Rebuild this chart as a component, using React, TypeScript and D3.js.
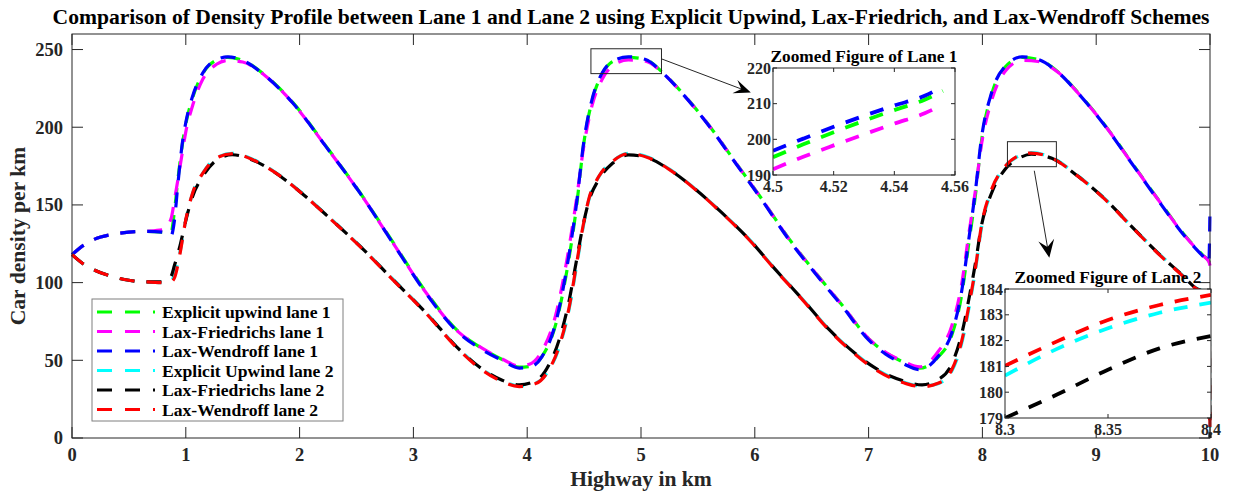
import React from 'react';
import * as d3 from 'd3';

const W = 1234;
const H = 492;
const FONT = "'Liberation Serif', 'Times New Roman', serif";
const AXIS = '#262626';

// main axes
const xTicks = [0, 1, 2, 3, 4, 5, 6, 7, 8, 9, 10];
const yTicks = [0, 50, 100, 150, 200, 250];

// lane 1 (Explicit upwind / Lax-Friedrichs / Lax-Wendroff)
const lane1X = [0, 0.1, 0.2, 0.35, 0.5, 0.65, 0.8, 0.87, 0.9, 0.93, 0.97, 1.0, 1.06, 1.15, 1.27, 1.37, 1.5, 1.7, 1.94,
  2.23, 2.53, 2.82, 3.11, 3.4, 3.6, 3.78, 3.93, 4.02, 4.13, 4.25, 4.34, 4.43, 4.5, 4.57, 4.66, 4.78, 4.89, 5.04, 5.19,
  5.36, 5.6, 5.83, 6.06, 6.3, 6.53, 6.77, 7.0, 7.15, 7.3, 7.45, 7.61, 7.73, 7.82, 7.88, 7.94, 7.99, 8.08, 8.2, 8.35,
  8.49, 8.67, 8.84, 9.08, 9.31, 9.54, 9.78, 9.94, 9.99, 10];
const upwindLane1 = [118, 124, 128, 131, 132.5, 133, 132.5, 132, 146, 166, 189, 202, 219, 234.5, 243.2, 245, 243, 233.3,
  216, 188, 158, 126, 94, 68.2, 57.8, 50.5, 45.6, 46, 52.5, 73, 104, 147, 191, 217, 234.5, 243.3, 245, 243.5, 235.3,
  222.3, 201, 177.5, 154, 128.3, 106.7, 85.3, 64, 55, 49, 45, 52, 66, 93, 125, 157, 190, 221, 238.8, 245, 243.6,
  235.3, 222.3, 201, 177.5, 154, 130.3, 117.4, 113.8, 112];
const laxFLane1 = [118, 124, 128, 131, 132.5, 133, 134, 141, 153, 166, 184, 197, 214, 231, 240.5, 243, 242, 233, 215.6,
  187.7, 157.7, 125.6, 93.6, 68, 58, 50.8, 46.3, 47.5, 56, 79, 111, 152, 189, 214, 231, 241, 243.3, 242.5, 235, 222,
  200.8, 177.2, 153.8, 128, 106.5, 85.2, 64, 55.2, 49.5, 45.8, 55.5, 72, 100, 131, 160, 188, 217, 236, 243, 242.3,
  235, 222, 200.8, 177.2, 153.8, 130, 117.2, 113.5, 111];
const laxWLane1 = [118, 124, 128, 131, 132.5, 133, 132.5, 130, 140, 163, 190, 203, 220, 235, 243.6, 245.3, 243, 233,
  215.6, 187.7, 157.7, 125.4, 93.2, 67.5, 57, 50, 45, 45.5, 52.4, 74, 106, 149, 192, 218, 235, 243.6, 245.3, 243.6,
  235, 222, 200.6, 177, 153.4, 127.6, 106, 84.6, 63.1, 54, 48, 44, 52.4, 67.5, 95.4, 127.6, 159.8, 192, 222, 239.2,
  245.3, 243.6, 235, 222, 200.6, 177, 153.4, 129.7, 116.8, 113, 148];

// lane 2
const lane2X = [0, 0.1, 0.2, 0.35, 0.5, 0.65, 0.8, 0.87, 0.9, 0.95, 1.0, 1.06, 1.15, 1.27, 1.41, 1.59, 1.77, 2.0, 2.23,
  2.53, 2.82, 3.11, 3.4, 3.58, 3.78, 3.93, 4.08, 4.19, 4.28, 4.37, 4.43, 4.49, 4.54, 4.63, 4.75, 4.89, 5.07, 5.25,
  5.48, 5.71, 5.95, 6.18, 6.42, 6.65, 6.88, 7.05, 7.2, 7.33, 7.47, 7.61, 7.73, 7.82, 7.88, 7.94, 7.99, 8.08, 8.2,
  8.32, 8.43, 8.61, 8.84, 9.08, 9.31, 9.54, 9.78, 9.87, 9.99, 10];
const upwindLane2 = [118, 112, 108, 104, 101.5, 100.5, 100, 101, 105, 120, 140, 157.5, 170.5, 180.3, 183.2, 179.3,
  171.8, 159, 144, 123.6, 102.2, 80.7, 57.2, 45.5, 36.8, 33.5, 35.5, 43.5, 58, 83.5, 109, 135, 152.8, 168.2, 178,
  183.2, 180.5, 173, 160.1, 145.1, 128, 108.6, 89.3, 70, 54.5, 45, 39, 35.4, 33.4, 35, 43, 61.5, 83, 108.5, 134.5,
  159, 174.7, 181.5, 183.6, 180.5, 168.7, 153.7, 136.4, 119.4, 103.3, 96.9, 92.4, 2];
const laxFLane2 = [118, 112, 108, 104, 101.5, 100.5, 100.5, 104, 111, 124, 140, 155.5, 168.5, 178.8, 182.3, 178.8,
  171.5, 158.7, 143.8, 123.5, 102, 80.6, 57.2, 45.7, 37.2, 34.2, 37, 47, 63, 89, 113, 136.5, 152, 166.5, 176.8, 182.2,
  180, 172.7, 159.9, 145, 127.8, 108.5, 89.2, 70, 54.6, 45.4, 39.6, 36.2, 34.2, 37.5, 47.5, 67.5, 89, 113, 136, 157.5,
  173, 180, 182.6, 180, 168.4, 153.5, 136.2, 119.2, 103.1, 96.7, 92.2, 0];
const laxWLane2 = [118, 112, 108, 104, 101.5, 100.5, 100, 100.5, 103, 119, 140.5, 157.7, 170.5, 180.2, 183, 179,
  171.6, 158.7, 143.7, 123.3, 101.8, 80.3, 56.7, 45, 36.3, 33.1, 35.2, 43.8, 58.8, 84.6, 110.4, 136.1, 153.4, 168.4,
  178, 183, 180.2, 172.7, 159.8, 144.8, 127.6, 108.2, 88.9, 69.6, 54, 44.5, 38.5, 35, 33, 35.2, 43.8, 63, 84.6, 110,
  136, 159.8, 174.8, 181.7, 183.4, 180.2, 168.4, 153.4, 136.1, 119, 102.9, 96.5, 92, 0];

// zoomed lane 1
const zoom1X = [4.5, 4.51, 4.52, 4.53, 4.54, 4.55, 4.556];
const zoom1Upwind = [195.0, 198.6, 202.0, 205.2, 208.2, 211.1, 213.6];
const zoom1LaxF = [191.6, 195.1, 198.3, 201.4, 204.4, 207.3, 209.8];
const zoom1LaxW = [196.8, 200.2, 203.5, 206.6, 209.5, 212.2, 214.8];
const zoom1XTicks = [4.5, 4.52, 4.54, 4.56];
const zoom1YTicks = [190, 200, 210, 220];

// zoomed lane 2
const zoom2X = [8.3, 8.325, 8.35, 8.375, 8.4];
const zoom2Upwind = [180.64, 181.67, 182.48, 183.08, 183.47];
const zoom2LaxF = [179.0, 179.9, 180.87, 181.7, 182.18];
const zoom2LaxW = [181.02, 181.96, 182.8, 183.38, 183.77];
const zoom2XTicks = [8.3, 8.35, 8.4];
const zoom2YTicks = [179, 180, 181, 182, 183, 184];

const series = [
  { name: 'Explicit upwind lane 1', color: '#00ff00', xs: lane1X, ys: upwindLane1, z: 1, zy: zoom1Upwind },
  { name: 'Lax-Friedrichs lane 1', color: '#ff00ff', xs: lane1X, ys: laxFLane1, z: 1, zy: zoom1LaxF },
  { name: 'Lax-Wendroff lane 1', color: '#0000ff', xs: lane1X, ys: laxWLane1, z: 1, zy: zoom1LaxW },
  { name: 'Explicit Upwind lane 2', color: '#00ffff', xs: lane2X, ys: upwindLane2, z: 2, zy: zoom2Upwind },
  { name: 'Lax-Friedrichs lane 2', color: '#000000', xs: lane2X, ys: laxFLane2, z: 2, zy: zoom2LaxF },
  { name: 'Lax-Wendroff lane 2', color: '#ff0000', xs: lane2X, ys: laxWLane2, z: 2, zy: zoom2LaxW },
];

function makeLine(xs, sx, sy) {
  return d3.line<number>()
    .x((_, i) => sx(xs[i]))
    .y((d) => sy(d))
    .curve(d3.curveMonotoneX);
}

function Arrow({ x1, y1, x2, y2, len = 16, half = 7 }) {
  const a = Math.atan2(y2 - y1, x2 - x1);
  const ux = Math.cos(a), uy = Math.sin(a);
  const nx = -uy, ny = ux;
  const bx = x2 - len * ux, by = y2 - len * uy;
  const kx = x2 - len * 0.6 * ux, ky = y2 - len * 0.6 * uy;
  const head = `M${x2},${y2}L${bx + half * nx},${by + half * ny}L${kx},${ky}L${bx - half * nx},${by - half * ny}Z`;
  return (
    <g>
      <line x1={x1} y1={y1} x2={kx} y2={ky} stroke={AXIS} strokeWidth={1} />
      <path d={head} fill="#000" />
    </g>
  );
}

function Inset({ id, left, right, top, bottom, xDomain, yDomain, xTicks, yTicks, title, xs, lane }) {
  const sx = d3.scaleLinear().domain(xDomain).range([left, right]);
  const sy = d3.scaleLinear().domain(yDomain).range([bottom, top]);
  const line = makeLine(xs, sx, sy);
  const tl = 4;
  return (
    <g>
      <defs>
        <clipPath id={id}>
          <rect x={left} y={top} width={right - left} height={bottom - top} />
        </clipPath>
      </defs>
      <rect x={left} y={top} width={right - left} height={bottom - top} fill="#fff" />
      <g clipPath={`url(#${id})`}>
        {series.filter((s) => s.z === lane).map((s) => (
          <path key={s.name} d={line(s.zy)} fill="none" stroke={s.color} strokeWidth={3.8}
            strokeDasharray="14,12" />
        ))}
      </g>
      <g stroke={AXIS} strokeWidth={1}>
        <rect x={left} y={top} width={right - left} height={bottom - top} fill="none" />
        {xTicks.map((t) => (
          <g key={t}>
            <line x1={sx(t)} x2={sx(t)} y1={bottom} y2={bottom - tl} />
            <line x1={sx(t)} x2={sx(t)} y1={top} y2={top + tl} />
          </g>
        ))}
        {yTicks.map((t) => (
          <g key={t}>
            <line x1={left} x2={left + tl} y1={sy(t)} y2={sy(t)} />
            <line x1={right} x2={right - tl} y1={sy(t)} y2={sy(t)} />
          </g>
        ))}
      </g>
      <g fontFamily={FONT} fontWeight="bold" fontSize={16} fill={AXIS}>
        {xTicks.map((t) => (
          <text key={t} x={sx(t)} y={bottom + 17} textAnchor="middle">{String(t)}</text>
        ))}
        {yTicks.map((t) => (
          <text key={t} x={left - 2} y={sy(t)} dy="0.35em" textAnchor="end">{String(t)}</text>
        ))}
        <text x={(left + right) / 2} y={top - 6} textAnchor="middle" fontSize={17.3} fill="#000">{title}</text>
      </g>
    </g>
  );
}

export default function App() {
  const left = 72, right = 1210, top = 34, bottom = 438;
  const x = d3.scaleLinear().domain([0, 10]).range([left, right]);
  const y = d3.scaleLinear().domain([0, 260]).range([bottom, top]);
  const tl = 11;

  const legendX = 92, legendY = 299, legendW = 251, legendH = 122, rowH = 19.5;

  // annotation boxes (data units) and arrows
  const box1 = { x0: 4.56, x1: 5.18, y0: 234.5, y1: 250.5 };
  const box2 = { x0: 8.22, x1: 8.65, y0: 174.6, y1: 190.7 };

  return (
    <svg width={W} height={H} style={{ position: 'absolute', left: 0, top: 0, background: '#fff' }}>
      <rect width={W} height={H} fill="#fff" />
      <text x={631} y={24} textAnchor="middle" fontFamily={FONT} fontWeight="bold" fontSize={21.6}
        fill="#000">
        Comparison of Density Profile between Lane 1 and Lane 2 using Explicit Upwind, Lax-Friedrich, and Lax-Wendroff Schemes
      </text>

      {/* curves */}
      <g>
        {series.map((s) => (
          <path key={s.name} d={makeLine(s.xs, x, y)(s.ys)} fill="none" stroke={s.color}
            strokeWidth={3.2} strokeDasharray="15,12" />
        ))}
      </g>

      {/* axes box and ticks */}
      <g stroke={AXIS} strokeWidth={1} fill="none">
        <rect x={left} y={top} width={right - left} height={bottom - top} />
        {xTicks.map((t) => (
          <g key={t}>
            <line x1={x(t)} x2={x(t)} y1={bottom} y2={bottom - tl} />
            <line x1={x(t)} x2={x(t)} y1={top} y2={top + tl} />
          </g>
        ))}
        {yTicks.map((t) => (
          <g key={t}>
            <line x1={left} x2={left + tl} y1={y(t)} y2={y(t)} />
            <line x1={right} x2={right - tl} y1={y(t)} y2={y(t)} />
          </g>
        ))}
      </g>
      <g fontFamily={FONT} fontWeight="bold" fontSize={18.5} fill={AXIS}>
        {xTicks.map((t) => (
          <text key={t} x={x(t)} y={bottom + 23} textAnchor="middle">{String(t)}</text>
        ))}
        {yTicks.map((t) => (
          <text key={t} x={left - 9} y={y(t)} dy="0.35em" textAnchor="end">{String(t)}</text>
        ))}
      </g>
      <text x={(left + right) / 2} y={486} textAnchor="middle" fontFamily={FONT} fontWeight="bold"
        fontSize={21.6} fill={AXIS}>Highway in km</text>
      <text transform={`translate(25,${(top + bottom) / 2}) rotate(-90)`} textAnchor="middle" fontFamily={FONT}
        fontWeight="bold" fontSize={21.6} fill={AXIS}>Car density per km</text>

      {/* legend */}
      <g>
        <rect x={legendX} y={legendY} width={legendW} height={legendH} fill="#fff" stroke="#7f7f7f" strokeWidth={1} />
        {series.map((s, i) => {
          const cy = legendY + 13 + i * rowH;
          return (
            <g key={s.name}>
              <line x1={legendX + 5} x2={legendX + 66} y1={cy} y2={cy} stroke={s.color} strokeWidth={3}
                strokeDasharray="15,13,15,13,2,40" />
              <text x={legendX + 70} y={cy} dy="0.35em" fontFamily={FONT} fontWeight="bold" fontSize={17.6}
                fill="#000">{s.name}</text>
            </g>
          );
        })}
      </g>

      {/* zoom boxes and arrows */}
      <g fill="none" stroke={AXIS} strokeWidth={1}>
        <rect x={x(box1.x0)} y={y(box1.y1)} width={x(box1.x1) - x(box1.x0)} height={y(box1.y0) - y(box1.y1)} />
        <rect x={x(box2.x0)} y={y(box2.y1)} width={x(box2.x1) - x(box2.x0)} height={y(box2.y0) - y(box2.y1)} />
      </g>
      <Arrow x1={x(5.18)} y1={y(244)} x2={x(5.965)} y2={y(222.3)} len={17} half={7} />
      <Arrow x1={x(8.456)} y1={y(172)} x2={x(8.588)} y2={y(116)} len={18} half={8} />

      <Inset id="zoomClip1" left={773} right={955} top={68} bottom={175} xDomain={[4.5, 4.56]} yDomain={[190, 220]}
        xTicks={zoom1XTicks} yTicks={zoom1YTicks} title="Zoomed Figure of Lane 1" xs={zoom1X} lane={1} />
      <Inset id="zoomClip2" left={1005} right={1211} top={289} bottom={418} xDomain={[8.3, 8.4]} yDomain={[179, 184]}
        xTicks={zoom2XTicks} yTicks={zoom2YTicks} title="Zoomed Figure of Lane 2" xs={zoom2X} lane={2} />
    </svg>
  );
}
